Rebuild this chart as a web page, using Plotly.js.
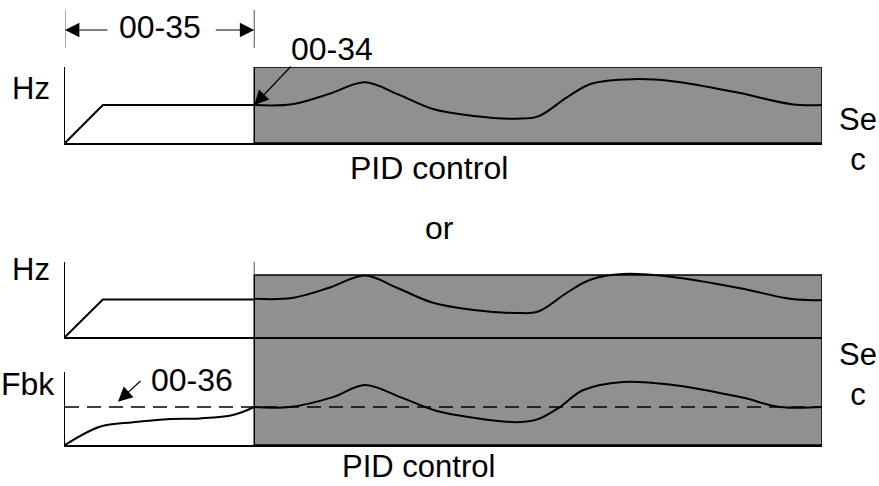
<!DOCTYPE html>
<html>
<head>
<meta charset="utf-8">
<script src="https://cdn.plot.ly/plotly-3.0.1.min.js"></script>
<style>html,body{margin:0;padding:0;background:#fff;}#chart{width:879px;height:486px;}</style>
</head>
<body>
<div id="chart"></div>
<script>
// ---- data (time in s, output in %) ----
var pidStart = 2.5;           // PID control begins (00-35 delay)
var tEnd = 10;
var rampT = [0, 0.5, 2.5];
var rampHz = [0, 50, 50];
// Top diagram: output frequency under PID control
var pidT1 = [2.5, 3.0, 3.5, 3.96, 4.4, 4.85, 5.4, 5.97, 6.25, 6.63, 6.95, 7.5, 8.05, 8.9, 9.6, 10];
var pidHz1 = [50, 51, 65, 80, 64, 45, 35.5, 32, 35, 60, 78, 84, 81, 66, 51, 50];
// Bottom diagram: output frequency
var pidT2 = [2.5, 3.0, 3.5, 3.96, 4.4, 4.85, 5.4, 5.97, 6.25, 6.63, 6.93, 7.37, 8.03, 8.92, 9.58, 10];
var pidHz2 = [51, 52, 66, 82, 65, 46, 36, 32, 34, 59, 76, 84, 80, 65, 51, 49];
// Bottom diagram: feedback
var fbkRiseT = [0, 0.46, 0.9, 1.35, 1.78, 2.22, 2.5];
var fbkRise = [0, 24, 30, 34, 35, 39.5, 50];
var fbkPidT = [2.5, 2.97, 3.54, 3.96, 4.43, 4.9, 5.39, 5.97, 6.25, 6.54, 6.84, 7.37, 8.03, 8.92, 9.45, 10];
var fbkPid = [50, 50, 63, 79, 63, 45, 36, 30, 34, 50, 72, 83, 79, 63, 50, 50];
var fbkSetT = [0, 10];
var fbkSet = [50, 50];
var labels = {delay: "00-35", detect: "00-34", level: "00-36", hz: "Hz", fbk: "Fbk", sec: "Se<br>c", pid: "PID control", or: "or"};

// ---- layout helpers ----
var W = 879, H = 486;
function px(x){ return x / W; }
function py(y){ return 1 - y / H; }
var FONT = "Liberation Sans, Arial, sans-serif";
var black = "#000";
var lineW = 2;

function ax(domain, range, anchor){
  return {domain: domain, range: range, anchor: anchor, showline: true, linecolor: black, linewidth: 1.5,
          showgrid: false, zeroline: false, showticklabels: false, ticks: "", fixedrange: true};
}

var traces = [
  {x: rampT, y: rampHz, xaxis: "x", yaxis: "y", mode: "lines", line: {color: black, width: lineW}},
  {x: pidT1, y: pidHz1, xaxis: "x", yaxis: "y", mode: "lines", line: {color: black, width: lineW, shape: "spline", smoothing: 1}},
  {x: rampT, y: rampHz, xaxis: "x2", yaxis: "y2", mode: "lines", line: {color: black, width: lineW}},
  {x: pidT2, y: pidHz2, xaxis: "x2", yaxis: "y2", mode: "lines", line: {color: black, width: lineW, shape: "spline", smoothing: 1}},
  {x: fbkSetT, y: fbkSet, xaxis: "x3", yaxis: "y3", mode: "lines", line: {color: black, width: 1.5, dash: "14px,8px"}},
  {x: fbkRiseT, y: fbkRise, xaxis: "x3", yaxis: "y3", mode: "lines", line: {color: black, width: lineW, shape: "spline", smoothing: 1}},
  {x: fbkPidT, y: fbkPid, xaxis: "x3", yaxis: "y3", mode: "lines", line: {color: black, width: lineW, shape: "spline", smoothing: 1}}
];

var xd = [px(65), px(822)];
var gray = "#909090";

var shapes = [
  {type: "rect", xref: "x", yref: "y", x0: pidStart, x1: tEnd, y0: 0, y1: 100, fillcolor: gray, line: {color: black, width: 1.5}, layer: "below"},
  {type: "rect", xref: "x3", yref: "paper", x0: pidStart, x1: tEnd, y0: py(445), y1: py(275), fillcolor: gray, line: {color: black, width: 1.5}, layer: "below"},
  {type: "line", xref: "x", yref: "paper", x0: 0, x1: 0, y0: py(10), y1: py(48), line: {color: "#555", width: 1}},
  {type: "line", xref: "x", yref: "paper", x0: pidStart, x1: pidStart, y0: py(10), y1: py(48), line: {color: "#555", width: 1}},
  {type: "line", xref: "x2", yref: "paper", x0: pidStart, x1: pidStart, y0: py(262), y1: py(275), line: {color: "#555", width: 1}}
];

function txt(text, x, y, size){
  return {text: text, xref: "paper", yref: "paper", x: px(x), y: py(y), xanchor: "center", yanchor: "middle",
          showarrow: false, borderpad: 0, font: {family: FONT, size: size || 32, color: black}};
}
var AH = {showarrow: true, arrowhead: 2, arrowsize: 2.4, arrowwidth: 1.2, arrowcolor: black, text: ""};
function arrow(xref, yref, x, y, axp, ayp){
  return Object.assign({xref: xref, yref: yref, x: x, y: y, ax: axp, ay: ayp}, AH);
}

var annotations = [
  txt(labels.delay, 160, 27),
  txt(labels.detect, 332, 49),
  txt(labels.hz, 31, 88, 31),
  txt(labels.sec, 858, 139, 31),
  txt(labels.pid, 429, 168, 32),
  txt(labels.or, 439, 228, 32),
  txt(labels.hz, 31, 269, 31),
  txt(labels.fbk, 28, 384),
  txt(labels.level, 192, 380),
  txt(labels.sec, 858, 374, 31),
  txt(labels.pid, 418, 466, 31),
  // 00-35 span arrows
  arrow("x", "paper", 0, py(30), 44, 0),
  arrow("x", "paper", pidStart, py(30), -40, 0),
  // 00-34 pointer
  arrow("x", "y", pidStart, 50, 38, -40),
  // 00-36 pointer
  arrow("x3", "y3", 0.7, 57, 24, -22)
];

var layout = {
  width: W, height: H, margin: {l: 0, r: 0, t: 0, b: 0},
  paper_bgcolor: "#fff", plot_bgcolor: "rgba(0,0,0,0)", showlegend: false,
  xaxis: ax(xd, [0, tEnd], "y"),
  yaxis: ax([py(143), py(67)], [0, 100], "x"),
  xaxis2: ax(xd, [0, tEnd], "y2"),
  yaxis2: ax([py(337), py(262)], [0, 100], "x2"),
  xaxis3: ax(xd, [0, tEnd], "y3"),
  yaxis3: ax([py(445), py(372)], [0, 96], "x3"),
  shapes: shapes, annotations: annotations
};

Plotly.newPlot("chart", traces, layout, {displayModeBar: false, staticPlot: true});
</script>
</body>
</html>
